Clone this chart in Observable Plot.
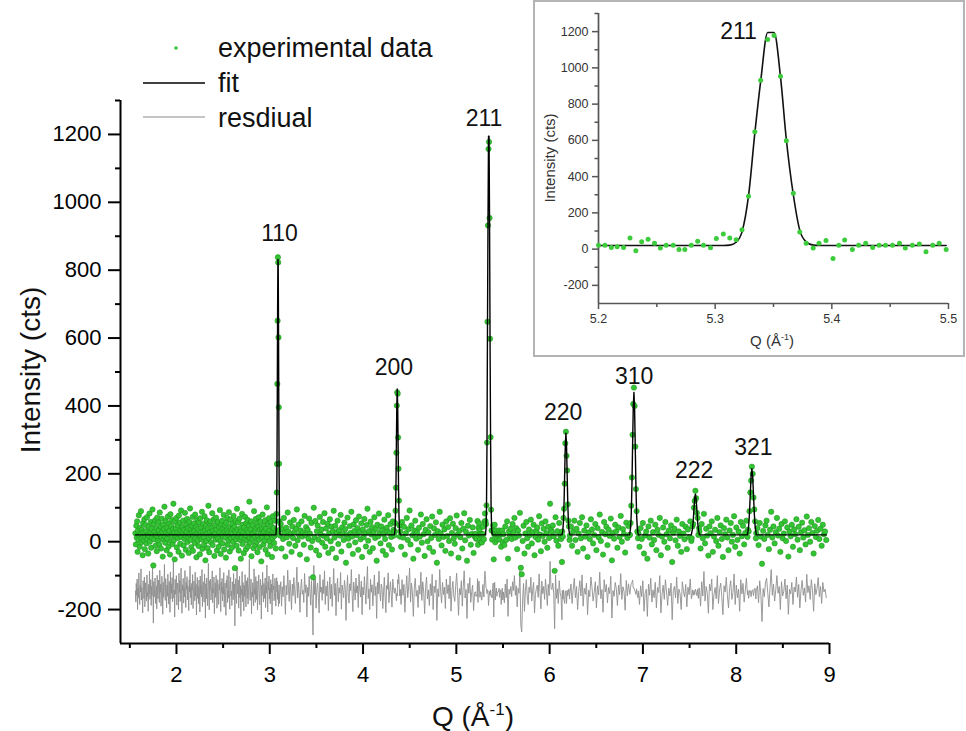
<!DOCTYPE html>
<html><head><meta charset="utf-8">
<script src="https://cdn.jsdelivr.net/npm/d3@7"></script>
<script src="https://cdn.jsdelivr.net/npm/@observablehq/plot@0.6"></script>
<style>
body{margin:0;background:#fff;}
#wrap{position:relative;width:966px;height:731px;}
#inset{position:absolute;left:535px;top:2px;outline:2px solid #b4b4b4;background:#fff;}
</style></head><body><div id="wrap"></div>
<script>
const FONT = '"Liberation Sans", Arial, Helvetica, sans-serif';

// ---------- background data (intensity, cts) on the measured Q grid of each range ----------
const bgRanges = [[1.56,3.065],[3.11,4.335],[4.398,5.195],[5.505,6.132],[6.217,6.857],[6.951,7.519],[7.606,8.121],[8.215,8.965]];
const bg1 = [25,-8,47,12,60,-30,33,5,78,18,-15,41,22,90,-2,
35,10,-40,55,28,3,66,-22,14,49,31,-5,72,8,20,
-35,44,17,83,0,26,58,-18,38,11,95,24,-70,52,7,
30,63,-12,19,40,-28,71,15,2,57,34,-9,86,21,45,
-20,13,68,29,-44,50,6,37,103,16,-3,61,27,-25,42,
9,74,23,-14,53,32,-38,81,1,46,18,64,-7,36,112,
4,28,-52,59,15,39,70,-17,25,48,11,-30,77,20,56,
-6,33,92,14,-41,43,26,62,-11,35,8,85,19,-24,51,
29,67,-1,40,12,-33,58,22,98,5,37,-16,47,27,73,
-27,18,54,31,-4,80,10,44,-46,24,65,3,38,-13,57,
21,-37,69,16,42,7,88,-21,30,52,13,-8,75,34,-55,
46,2,63,25,-19,39,106,11,-31,55,28,60,-2,17,41,
84,-10,32,19,66,-42,23,49,6,71,36,-26,14,58,9,
-15,44,27,93,1,-36,51,20,62,-5,37,15,79,-23,30,
48,12,-47,56,33,70,-9,26,4,87,18,-29,43,65,10,
24,-18,52,38,-1,76,14,45,-78,29,61,7,-12,97,35,
16,57,-26,22,68,5,40,-50,31,13,82,-7,50,27,-34,
42,9,73,19,-22,55,34,3,64,-14,28,47,118,11,-3,
37,60,-43,21,8,49,25,-19,90,15,32,-9,67,39,0,
54,-31,18,44,72,6,-16,35,59,23,-58,41,12,80,26,
-8,47,30,3,63,-24,38,19,101,14,-37,52,28,69,1,
33,-13,58,21,45,-45,10,75,29,40,-4,17,62,24,-20];
const bg2 = [18,52,-20,37,8,70,26,-44,41,13,86,30,-6,57,22,
-30,45,11,64,29,-12,38,95,4,50,19,-38,33,60,15,
27,-9,76,20,43,-52,35,9,68,24,-17,55,2,-105,100,
14,61,-26,31,48,6,-40,73,21,36,-3,58,17,84,-15,
39,10,53,-33,25,66,1,44,-21,30,91,12,47,-48,28,
62,-7,34,18,79,-29,42,23,5,56,37,-62,20,71,9,
-11,46,26,88,15,-36,51,32,-2,63,19,40,-24,74,29,
7,54,-45,36,13,67,24,-14,49,97,3,31,-30,59,21,
43,-19,28,72,11,38,-56,50,16,83,25,-5,45,33,-27,
22,65,8,-39,41,30,78,-10,26,52,14,-23,60,35,18];
const bg3 = [30,-15,58,12,44,-38,25,70,5,37,92,-8,48,19,-50,33,
62,9,27,-24,41,15,80,-3,52,22,-42,35,66,1,28,-18,
46,11,74,-30,39,20,57,-62,31,8,88,24,-11,50,14,36,
-27,60,17,43,2,69,-35,26,53,10,-6,40,77,21,-47,32,
13,55,-20,38,84,4,29,-56,47,18,64,-9,23,42,-33,16];
const bg4 = [22,-10,45,5,60,-50,30,15,38,8,52,26,70,12,40,-22,
33,18,85,-77,-96,2,47,-35,24,58,10,-15,36,20,65,-5,
28,50,-40,14,32,42,6,75,21,-28,54,17,38,0,60,25,
-18,44,11,112,35,29,48,16,-86,72,3,31,-12,55,19,8,-60];
const bg5 = [18,45,-12,30,62,5,38,-30,24,55,10,72,-20,33,15,48,-45,27,8,66,
36,-5,20,52,-25,40,13,80,2,29,-38,58,22,44,-10,35,17,68,-55,26,
9,50,31,-18,42,14,76,0,37,23,-32,56,11,46,20];
const bg6 = [25,-15,40,8,55,-35,18,30,-50,45,12,62,-8,28,5,50,-25,35,20,70,
-40,15,42,0,58,22,-18,33,10,48,-60,26,38,4,65,-12,30,17,-30,52,
24,7,44,-22,36,14,60,2];
const bg7 = [30,-20,52,10,82,-5,38,18,-41,45,25,60,-30,15,35,2,70,-12,28,48,
8,-45,40,22,65,12,-25,33,55,0,20,75,-15,42,5,30,-35,58,16,47,
-8,26,62,14];
const bg8 = [25,40,-10,55,15,-65,32,8,48,62,20,-22,35,88,12,45,-5,28,70,18,
38,-30,52,10,24,60,2,42,-44,30,16,50,-15,36,22,66,6,44,-25,28,
56,12,34,-8,74,20,40,0,58,26,-35,46,14,32,64,8,38,-12,50,22,30,5];
const bgSegments = [bg1,bg2,bg3,bg4,bg5,bg6,bg7,bg8];
const fitBaseline = 20;

// ---------- Bragg peaks: Q, observed, fitted ----------
const p110Q = [3.0680,3.0712,3.0744,3.0776,3.0808,3.0840,3.0872,3.0904,3.0936,3.0968,3.1000,3.1032,3.1064];
const p110Obs = [30,82,145,229,465,651,838,823,602,396,230,60,35];
const p110Calc = [26,46,101,227,432,671,832,820,643,403,207,92,42];
const p200Q = [4.3390,4.3436,4.3482,4.3528,4.3574,4.3620,4.3666,4.3712,4.3758,4.3804,4.3850,4.3896,4.3942];
const p200Obs = [30,55,91,159,262,401,440,436,307,215,121,48,15];
const p200Calc = [25,41,82,165,286,403,450,398,281,161,79,40,25];
const p220Q = [6.1355,6.1420,6.1485,6.1550,6.1615,6.1680,6.1745,6.1810,6.1875,6.1940,6.2005,6.2070,6.2135];
const p220Obs = [30,15,70,97,171,290,324,253,210,110,62,45,5];
const p220Calc = [24,34,62,119,203,285,320,285,203,119,62,34,24];
const p310Q = [6.8600,6.8673,6.8745,6.8818,6.8890,6.8963,6.9035,6.9108,6.9180,6.9253,6.9325,6.9398,6.9470];
const p310Obs = [20,55,106,189,315,406,454,400,280,155,90,30,10];
const p310Calc = [25,40,79,160,278,392,440,392,278,160,79,40,25];
const p222Q = [7.5230,7.5309,7.5388,7.5467,7.5546,7.5625,7.5704,7.5783,7.5862,7.5941,7.6020];
const p222Obs = [10,45,52,100,120,150,128,85,70,20,40];
const p222Calc = [26,37,60,94,126,140,126,94,60,37,26];
const p321Q = [8.1250,8.1336,8.1422,8.1508,8.1594,8.1680,8.1766,8.1852,8.1938,8.2024,8.2110];
const p321Obs = [35,30,90,145,180,221,200,130,95,60,10];
const p321Calc = [29,47,84,139,192,215,192,139,84,47,29];
// 211 region (also shown in the inset)
const insetQ = [5.200,5.2055,5.211,5.216,5.2215,5.227,5.232,5.237,5.2425,5.248,5.253,5.258,5.264,5.269,5.274,5.2795,5.285,5.290,5.296,5.301,5.307,5.3125,5.318,5.323,5.3286,5.334,5.339,5.345,5.3505,5.356,5.361,5.367,5.3725,5.378,5.384,5.389,5.395,5.401,5.406,5.411,5.4176,5.423,5.429,5.435,5.4405,5.446,5.452,5.458,5.463,5.469,5.475,5.4807,5.4865,5.492,5.498];
const insetObs = [22,22,9,13,9,61,-9,41,54,33,6,22,22,-2,-2,22,44,22,7,59,83,61,52,107,292,648,932,1157,1178,954,598,308,94,33,6,33,48,-52,22,50,-2,22,33,9,22,22,22,33,6,22,28,-15,22,33,-2];
const insetCalc = [20,20,20,20,20,20,20,20,20,20,20,20,20,20,20,20,20,20,20,20,20,22,38,95,295,640,925,1195,1195,950,605,300,105,40,22,20,20,20,20,20,20,20,20,20,20,20,20,20,20,20,20,20,20,20,20];
const residualOffset = -150;

// ---------- labels & ticks ----------
const peakLabels = ["110","200","211","220","310","222","321"];
const peakLabelQ = [3.104,4.331,5.296,6.145,6.906,7.549,8.184];
const peakLabelI = [887,492,1226,359,465,189,256];
const legendLabels = ["experimental data","fit","resdiual"];
const xMajor = [2,3,4,5,6,7,8,9];
const xMinor = [1.5,2.5,3.5,4.5,5.5,6.5,7.5,8.5];
const yMajor = [-200,0,200,400,600,800,1000,1200];
const yMinor = [-100,100,300,500,700,900,1100,1300];
const insetXMajor = [5.2,5.3,5.4,5.5];
const insetXMinor = [5.25,5.35,5.45];
const insetLabel = ["211"];
const insetLabelQ = [5.320];
const insetLabelI = [1159];

// ---------- build table ----------
const points = [];
bgSegments.forEach((vals, k) => {
  const [a, b] = bgRanges[k], n = vals.length;
  vals.forEach((v, i) => points.push({q: a + (b - a) * i / (n - 1), obs: v, calc: fitBaseline}));
});
[[p110Q,p110Obs,p110Calc],[p200Q,p200Obs,p200Calc],[insetQ,insetObs,insetCalc],[p220Q,p220Obs,p220Calc],
 [p310Q,p310Obs,p310Calc],[p222Q,p222Obs,p222Calc],[p321Q,p321Obs,p321Calc]].forEach(([Q,O,C]) =>
  Q.forEach((q, i) => points.push({q, obs: O[i], calc: C[i]})));
points.sort((a, b) => a.q - b.q);

const main = Plot.plot({
  width: 966, height: 731,
  marginLeft: 120, marginRight: 137, marginTop: 100, marginBottom: 88,
  x: {domain: [1.4, 9]},
  y: {domain: [-300, 1300]},
  style: {fontFamily: FONT, fontSize: "22px", color: "#000", background: "#fff"},
  marks: [
    Plot.axisX({ticks: xMajor, tickSize: 11, tickPadding: 12, strokeWidth: 2, fontSize: 22, tickFormat: String, label: null}),
    Plot.axisX({ticks: xMinor, tickSize: 5, strokeWidth: 2, text: null, label: null}),
    Plot.axisY({ticks: yMajor, tickSize: 12, tickPadding: 7, strokeWidth: 2, fontSize: 22, tickFormat: String, label: null}),
    Plot.axisY({ticks: yMinor, tickSize: 5, strokeWidth: 2, text: null, label: null}),
    Plot.ruleY([-300], {strokeWidth: 2}),
    Plot.ruleX([1.4], {strokeWidth: 2}),
    Plot.line(points, {x: "q", y: d => d.obs - d.calc + residualOffset, stroke: "#8e8e8e", strokeWidth: 0.9}),
    Plot.dot(points, {x: "q", y: "obs", r: 2.7, fill: "#33c433", stroke: "#1f8c1f", strokeWidth: 0.5}),
    Plot.line(points, {x: "q", y: "calc", stroke: "#000", strokeWidth: 1.4}),
    Plot.text(peakLabels, {x: peakLabelQ, y: peakLabelI, text: d => d, fontSize: 23, lineAnchor: "bottom", textAnchor: "middle", fill: "#111"})
  ]
});
document.getElementById("wrap").appendChild(main);

const svg = d3.select(main);
const g = svg.append("g").attr("font-family", FONT).attr("fill", "#111");
// legend
g.append("circle").attr("cx", 176).attr("cy", 48).attr("r", 1.8).attr("fill", "#3cc43c");
g.append("line").attr("x1", 143).attr("x2", 205).attr("y1", 83).attr("y2", 83).attr("stroke", "#000").attr("stroke-width", 1.5);
g.append("line").attr("x1", 143).attr("x2", 205).attr("y1", 117).attr("y2", 117).attr("stroke", "#b0b0b0").attr("stroke-width", 1.3);
[57, 92, 127].forEach((y, i) => g.append("text").attr("x", 218).attr("y", y).attr("text-anchor", "start").attr("font-size", 27).text(legendLabels[i]));
// axis titles
g.append("text").attr("transform", "translate(40,370) rotate(-90)").attr("text-anchor", "middle").attr("font-size", 28).text("Intensity (cts)");
const xt = g.append("text").attr("x", 473).attr("y", 726).attr("text-anchor", "middle").attr("font-size", 28);
xt.append("tspan").text("Q (Å");
xt.append("tspan").attr("dy", -11).attr("font-size", 17).text("-1");
xt.append("tspan").attr("dy", 11).text(")");

// ---------- inset ----------
const inset = Plot.plot({
  width: 428, height: 353,
  marginLeft: 63, marginRight: 15, marginTop: 11, marginBottom: 52,
  x: {domain: [5.2, 5.5]},
  y: {domain: [-300, 1300]},
  style: {fontFamily: FONT, fontSize: "12.5px", color: "#333", background: "#fff"},
  marks: [
    Plot.axisX({ticks: insetXMajor, tickSize: 6, tickPadding: 5, stroke: "#555", strokeWidth: 1.5, fill: "#333", tickFormat: d3.format(".1f"), label: null}),
    Plot.axisX({ticks: insetXMinor, tickSize: 4, stroke: "#555", strokeWidth: 1.5, text: null, label: null}),
    Plot.axisY({ticks: yMajor, tickSize: 6, tickPadding: 4, stroke: "#555", strokeWidth: 1.5, fill: "#333", tickFormat: String, label: null}),
    Plot.axisY({ticks: yMinor, tickSize: 3.5, stroke: "#555", strokeWidth: 1.5, text: null, label: null}),
    Plot.ruleY([-300], {stroke: "#555", strokeWidth: 1.7}),
    Plot.ruleX([5.2], {stroke: "#555", strokeWidth: 1.7}),
    Plot.line(insetQ, {x: insetQ, y: insetCalc, curve: "monotone-x", stroke: "#111", strokeWidth: 1.6}),
    Plot.dot(insetQ, {x: insetQ, y: insetObs, r: 2.5, fill: "#3ccc3c"}),
    Plot.text(insetLabel, {x: insetLabelQ, y: insetLabelI, text: d => d, fontSize: 23, lineAnchor: "bottom", textAnchor: "middle", fill: "#111"})
  ]
});
inset.id = "inset";
document.getElementById("wrap").appendChild(inset);
const gi = d3.select(inset).append("g").attr("font-family", FONT).attr("fill", "#333");
gi.append("text").attr("transform", "translate(20,156) rotate(-90)").attr("text-anchor", "middle").attr("font-size", 15).text("Intensity (cts)");
const it = gi.append("text").attr("x", 237).attr("y", 344).attr("text-anchor", "middle").attr("font-size", 15);
it.append("tspan").text("Q (Å");
it.append("tspan").attr("dy", -6).attr("font-size", 9).text("-1");
it.append("tspan").attr("dy", 6).text(")");
</script></body></html>
